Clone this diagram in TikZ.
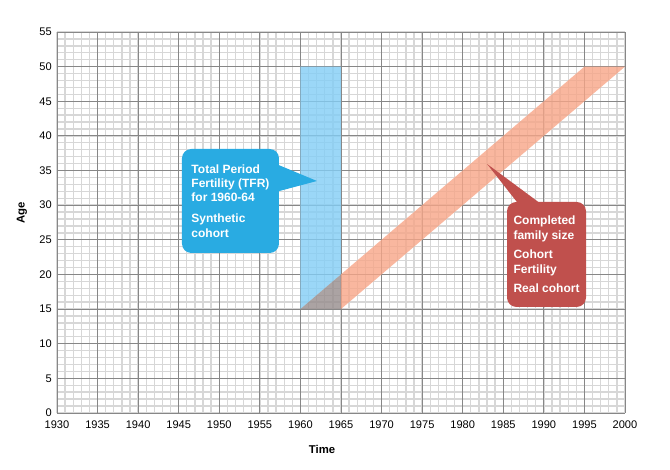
\documentclass[tikz,border=0pt]{standalone}
\usepackage{fontspec}
\setmainfont{Liberation Sans}
\usetikzlibrary{calc}
\definecolor{calloutBlue}{RGB}{41,171,226}
\definecolor{calloutRed}{RGB}{192,80,77}
\definecolor{barBlue}{RGB}{130,205,245}
\definecolor{bandOrange}{RGB}{247,165,135}
\definecolor{overlapGray}{RGB}{150,140,140}
\definecolor{minorGrid}{RGB}{215,215,215}
\definecolor{majorGrid}{RGB}{135,135,135}

\begin{document}
\begin{tikzpicture}[x=6.086pt, y=5.195pt,
    every node/.style={font=\fontsize{8.3}{10}\selectfont},
    minor line/.style={minorGrid, line width=1pt},
    major line/.style={majorGrid, line width=0.6pt},
    tick label/.style={inner sep=0pt},
    callout/.style={rounded corners=7pt, text=white, align=left,
      font=\fontsize{9}{10.7}\selectfont\bfseries, inner sep=0pt},
  ]

  % Frame: 670 x 470 px, origin = (1930, age 0)
  \useasboundingbox (-7.025,-8.229) rectangle (75.55,59.62);

  % --- Grid: one line per year / per year of age ---
  \foreach \x in {0,...,70} \draw[minor line] (\x,0) -- (\x,55);
  \foreach \y in {0,...,55} \draw[minor line] (0,\y) -- (70,\y);
  \foreach \x in {0,5,...,70} \draw[major line] (\x,0) -- (\x,55);
  \foreach \y in {0,5,...,55} \draw[major line] (0,\y) -- (70,\y);

  % --- Period (1960-64) and cohort (born 1945) ---
  \fill[barBlue, opacity=0.8] (30,15) -- (35,20) -- (35,50) -- (30,50) -- cycle;
  \fill[bandOrange, opacity=0.8] (35,15) -- (70,50) -- (65,50) -- (35,20) -- cycle;
  \fill[overlapGray, opacity=0.8] (30,15) -- (35,15) -- (35,20) -- cycle;

  % --- Tick labels ---
  \foreach \x [evaluate=\x as \yr using int(1930+\x)] in {0,5,...,70}
    \node[tick label, anchor=north] (xt\x) at (\x,-1.05) {\yr};
  \foreach \y in {0,5,...,55}
    \node[tick label, anchor=east] (yt\y) at (-0.62,\y) {\y};

  % --- Axis titles ---
  \node[font=\fontsize{8.5}{10}\selectfont\bfseries] (timelabel) at (32.66,-5.34) {Time};
  \node[font=\fontsize{8.5}{10}\selectfont\bfseries, rotate=90] (agelabel) at (-4.31,28.87) {Age};

  % --- Callout: period view ---
  \node[callout, fill=calloutBlue, minimum width=72.75pt, minimum height=78pt]
    (tfr) at (21.38,30.6)
    {Total Period\\Fertility (TFR)\\for 1960-64\\[5pt]Synthetic\\cohort};
  \coordinate (tfrtip) at (32.04,33.49);
  \fill[calloutBlue] ($(tfr.north east)+(-1pt,-12pt)$) -- (tfrtip)
    -- ($(tfr.north east)+(-1pt,-32pt)$) -- cycle;

  % --- Callout: cohort view ---
  \node[callout, fill=calloutRed, minimum width=59.25pt, minimum height=78.75pt]
    (cfs) at (60.33,22.88)
    {Completed\\family size\\[4pt]Cohort\\Fertility\\[4pt]Real cohort};
  \coordinate (cfstip) at (53.0,35.95);
  \fill[calloutRed] ($(cfs.north west)+(8.25pt,-1pt)$) -- (cfstip)
    -- ($(cfs.north west)+(24.75pt,-1pt)$) -- cycle;

\end{tikzpicture}
\end{document}
